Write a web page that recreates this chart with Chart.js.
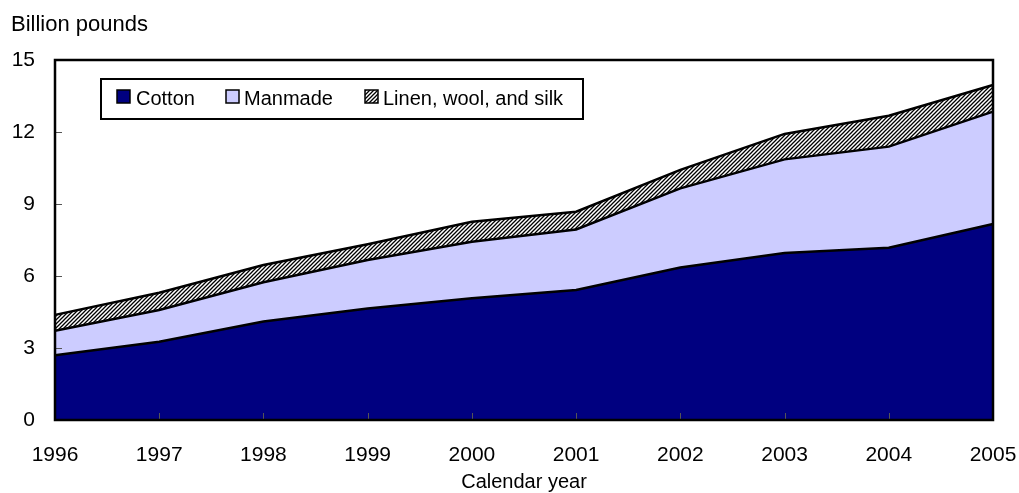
<!DOCTYPE html>
<html>
<head>
<meta charset="utf-8">
<script src="https://cdn.jsdelivr.net/npm/chart.js@4.4.1/dist/chart.umd.min.js"></script>
<style>
  body { margin: 0; background: #fff; }
  #wrap { width: 1019px; height: 493px; }
</style>
</head>
<body>
<div id="wrap"><canvas id="fibre" width="1019" height="493"></canvas></div>
<script>
const years = ['1996', '1997', '1998', '1999', '2000', '2001', '2002', '2003', '2004', '2005'];
const cotton = [2.70, 3.26, 4.10, 4.65, 5.07, 5.42, 6.35, 6.96, 7.18, 8.17];
const manmade = [1.02, 1.32, 1.64, 2.02, 2.36, 2.52, 3.30, 3.90, 4.21, 4.68];
const linenWoolSilk = [0.66, 0.72, 0.72, 0.65, 0.83, 0.74, 0.77, 1.06, 1.29, 1.11];
const yTicks = [0, 3, 6, 9, 12, 15];
const seriesNames = ['Cotton', 'Manmade', 'Linen, wool, and silk'];

const FONT = "'Liberation Sans', Arial, sans-serif";
const canvas = document.getElementById('fibre');
const ctx = canvas.getContext('2d');

// diagonal hatch used for the linen/wool/silk band
function makeHatch() {
    let c = document.createElement('canvas');
    c.width = 4; c.height = 4;
    let g = c.getContext('2d');
    g.fillStyle = '#fff';
    g.fillRect(0, 0, 4, 4);
    g.strokeStyle = '#000';
    g.lineWidth = 1.3;
    g.beginPath();
    g.moveTo(0, 4); g.lineTo(4, 0);
    g.moveTo(-1, 1); g.lineTo(1, -1);
    g.moveTo(3, 5); g.lineTo(5, 3);
    g.stroke();
    return ctx.createPattern(c, 'repeat');
}
const hatch = makeHatch();
const fills = ['#000080', '#ccccff', hatch];

const decor = {
    id: 'decor',
    afterDatasetsDraw(chart) {
        const c = chart.ctx, a = chart.chartArea;
        const x = chart.scales.x, y = chart.scales.y;
        c.save();
        // inward tick marks
        c.strokeStyle = '#555';
        c.lineWidth = 1;
        c.beginPath();
        yTicks.forEach(v => {
            if (v > yTicks[0] && v < yTicks[yTicks.length - 1]) {
                let py = Math.round(y.getPixelForValue(v)) + 0.5;
                c.moveTo(a.left, py); c.lineTo(a.left + 7, py);
            }
        });
        years.forEach((yr, i) => {
            if (i > 0 && i < years.length - 1) {
                let px = Math.round(x.getPixelForValue(i)) + 0.5;
                c.moveTo(px, a.bottom); c.lineTo(px, a.bottom - 7);
            }
        });
        c.stroke();
        // plot frame
        c.strokeStyle = '#000';
        c.lineWidth = 2.5;
        c.strokeRect(a.left, a.top, a.right - a.left, a.bottom - a.top);
        c.restore();
    },
    afterDraw(chart) {
        const c = chart.ctx, a = chart.chartArea;
        c.save();
        c.fillStyle = '#000';
        c.font = '22px ' + FONT;
        c.textBaseline = 'alphabetic';
        c.textAlign = 'left';
        c.fillText('Billion pounds', 11, 31);
        c.font = '20px ' + FONT;
        c.textAlign = 'center';
        c.fillText('Calendar year', (a.left + a.right) / 2, 488);

        // legend box
        c.fillStyle = '#fff';
        c.fillRect(101, 79, 482, 40);
        c.strokeStyle = '#000';
        c.lineWidth = 2;
        c.strokeRect(101, 79, 482, 40);
        const swatchX = [117, 226, 365];
        const textX = [136, 244, 383];
        c.font = '20px ' + FONT;
        c.textAlign = 'left';
        seriesNames.forEach((name, i) => {
            c.fillStyle = fills[i];
            c.fillRect(swatchX[i], 90, 13, 13);
            c.lineWidth = 1.5;
            c.strokeStyle = '#000';
            c.strokeRect(swatchX[i], 90, 13, 13);
            c.fillStyle = '#000';
            c.fillText(name, textX[i], 105);
        });
        c.restore();
    }
};

const series = [cotton, manmade, linenWoolSilk];
new Chart(ctx, {
    type: 'line',
    data: {
        labels: years,
        datasets: series.map((vals, i) => ({
            label: seriesNames[i],
            data: vals,
            backgroundColor: fills[i],
            borderColor: '#000',
            borderWidth: 2.5,
            fill: i === 0 ? 'origin' : '-1',
            pointRadius: 0,
            tension: 0
        }))
    },
    options: {
        responsive: false,
        animation: false,
        devicePixelRatio: 1,
        layout: { padding: { top: 60, right: 26, left: 0, bottom: 0 } },
        plugins: { legend: { display: false }, tooltip: { enabled: false } },
        scales: {
            x: {
                grid: { display: false, drawTicks: false },
                border: { display: false },
                ticks: { color: '#000', font: { family: FONT, size: 21 }, padding: 23, maxRotation: 0, autoSkip: false },
                afterFit(s) { s.height = 73; s.paddingLeft = 0; s.paddingRight = 0; }
            },
            y: {
                stacked: true,
                min: 0,
                max: 15,
                grid: { display: false, drawTicks: false },
                border: { display: false },
                ticks: { stepSize: 3, color: '#000', font: { family: FONT, size: 21 }, padding: 20 },
                afterFit(s) { s.width = 55; }
            }
        }
    },
    plugins: [decor]
});
</script>
</body>
</html>
